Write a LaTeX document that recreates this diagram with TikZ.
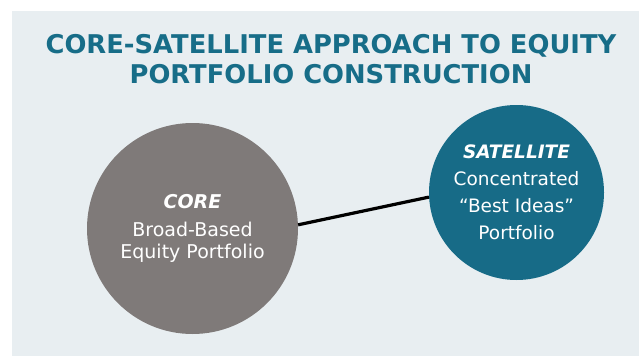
\documentclass[tikz,border=0pt]{standalone}
\usepackage{fontspec}
\setmainfont{DejaVu Sans}
\usetikzlibrary{positioning}
\definecolor{panelbg}{HTML}{E8EEF1}
\definecolor{tealtitle}{HTML}{176D88}
\definecolor{satfill}{HTML}{176B87}
\definecolor{corefill}{HTML}{7F7A79}
\tikzset{
  bubble/.style={circle, inner sep=0pt, text=white, align=center},
  link/.style={line width=3.2pt, black},
}
\begin{document}
\begin{tikzpicture}[x=1pt, y=-1pt]
    \useasboundingbox (0,0) rectangle (639,356) ;
    \fill [panelbg] (12,11) rectangle (639,356) ;
    % title
    \node [text=tealtitle, align=center, font=\fontsize{25.8}{30}\selectfont\bfseries]
        (title) at (331,59) {CORE-SATELLITE APPROACH TO EQUITY\\PORTFOLIO CONSTRUCTION} ;
    % the two circles
    \node [bubble, fill=corefill, minimum size=211pt, font=\fontsize{19}{22}\selectfont]
        (core) at (192.5,228.5) {\textbf{\textit{CORE}}\\[6pt]Broad-Based\\Equity Portfolio} ;
    \node [bubble, fill=satfill, minimum size=175pt, font=\fontsize{18.5}{27}\selectfont]
        (sat) at (516.5,192.5) {\textbf{\textit{SATELLITE}}\\Concentrated\\“Best Ideas”\\Portfolio} ;
    \draw [link] (core.2) -- (sat.183) ;
\end{tikzpicture}
\end{document}
